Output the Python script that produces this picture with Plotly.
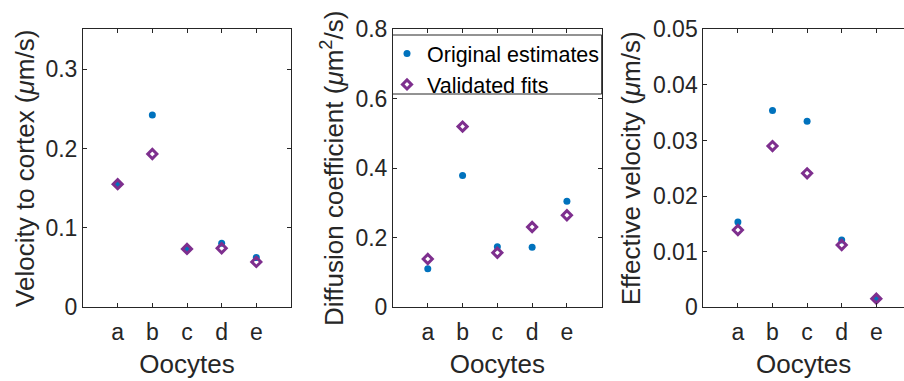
import plotly.graph_objects as go

oocytes = ["a", "b", "c", "d", "e"]

# Panel 1: velocity to cortex (um/s)
vel_orig = [0.155, 0.242, 0.0735, 0.0807, 0.0626]
vel_fit = [0.155, 0.193, 0.0735, 0.0744, 0.0571]

# Panel 2: diffusion coefficient (um^2/s)
diff_orig = [0.111, 0.379, 0.174, 0.173, 0.305]
diff_fit = [0.139, 0.520, 0.157, 0.231, 0.265]

# Panel 3: effective velocity (um/s)
eff_orig = [0.01535, 0.0354, 0.03345, 0.0121, 0.0016]
eff_fit = [0.0139, 0.0290, 0.0241, 0.0112, 0.00156]

BLUE = "#0072BD"
PURPLE = "#7E2F8E"
TXT = "#262626"
FONT = "Liberation Sans, Arial, sans-serif"

fig = go.Figure()

panels = [
    (vel_orig, vel_fit, "x", "y", False),
    (diff_orig, diff_fit, "x2", "y2", True),
    (eff_orig, eff_fit, "x3", "y3", False),
]
for orig, fit, xa, ya, show in panels:
    fig.add_trace(go.Scatter(
        x=oocytes, y=orig, xaxis=xa, yaxis=ya, mode="markers",
        name="Original estimates", showlegend=show,
        marker=dict(symbol="circle", size=7, color=BLUE, line=dict(width=0)),
    ))
    fig.add_trace(go.Scatter(
        x=oocytes, y=fit, xaxis=xa, yaxis=ya, mode="markers",
        name="Validated fits", showlegend=show,
        marker=dict(symbol="diamond-open", size=7, color=PURPLE,
                    line=dict(width=3, color=PURPLE)),
    ))

W, H = 904, 381
ydom = [(381 - 307.3) / H, (381 - 29.3) / H]

TITLE_FONT = dict(family=FONT, size=26, color=TXT)
TICK_FONT = dict(family=FONT, size=23, color=TXT)

common_x = dict(
    type="category", showline=True, linecolor=TXT, linewidth=1,
    mirror="ticks", ticks="inside", ticklen=4, tickcolor=TXT,
    showgrid=False, zeroline=False, automargin=False,
    tickfont=TICK_FONT, ticklabelstandoff=4,
    title=dict(text="Oocytes", font=TITLE_FONT, standoff=10),
)
common_y = dict(
    showline=True, linecolor=TXT, linewidth=1,
    mirror="ticks", ticks="inside", ticklen=4, tickcolor=TXT,
    showgrid=False, zeroline=False, domain=ydom, automargin=False,
    tickfont=TICK_FONT,
)

fig.update_layout(
    width=W, height=H,
    margin=dict(l=0, r=0, t=0, b=0, pad=0, autoexpand=False),
    paper_bgcolor="white", plot_bgcolor="white",
    font=dict(family=FONT, color=TXT),
    xaxis=dict(common_x, domain=[83 / W, 291 / W], range=[-1, 5], anchor="y"),
    xaxis2=dict(common_x, domain=[393 / W, 601.7 / W], range=[-1, 5], anchor="y2"),
    xaxis3=dict(common_x, domain=[703.3 / W, 1.0], range=[-1, 4.80], anchor="y3"),
    yaxis=dict(common_y, anchor="x", range=[0, 0.35], tickvals=[0, 0.1, 0.2, 0.3],
               title=dict(text="Velocity to cortex (<i>μ</i>m/s)",
                          font=TITLE_FONT, standoff=3)),
    yaxis2=dict(common_y, anchor="x2", range=[0, 0.8], tickvals=[0, 0.2, 0.4, 0.6, 0.8],
                title=dict(text="Diffusion coefficient (<i>μ</i>m<sup>2</sup>/s)",
                           font=TITLE_FONT, standoff=4)),
    yaxis3=dict(common_y, anchor="x3", range=[0, 0.05], mirror=False,
                tickvals=[0, 0.01, 0.02, 0.03, 0.04, 0.05],
                title=dict(text="Effective velocity (<i>μ</i>m/s)",
                           font=TITLE_FONT, standoff=4)),
    legend=dict(
        x=387 / W, y=1 - 33 / H, xanchor="left", yanchor="top",
        bgcolor="rgba(0,0,0,0)", borderwidth=0,
        font=dict(family=FONT, size=21.5, color="black"),
        itemwidth=30, tracegroupgap=0,
    ),
    shapes=[dict(
        type="rect", xref="paper", yref="paper",
        x0=392.5 / W, x1=601.7 / W, y0=1 - 94 / H, y1=1 - 35 / H,
        line=dict(color=TXT, width=1), fillcolor="white", layer="above",
    )],
)

fig.write_html("out.html")
